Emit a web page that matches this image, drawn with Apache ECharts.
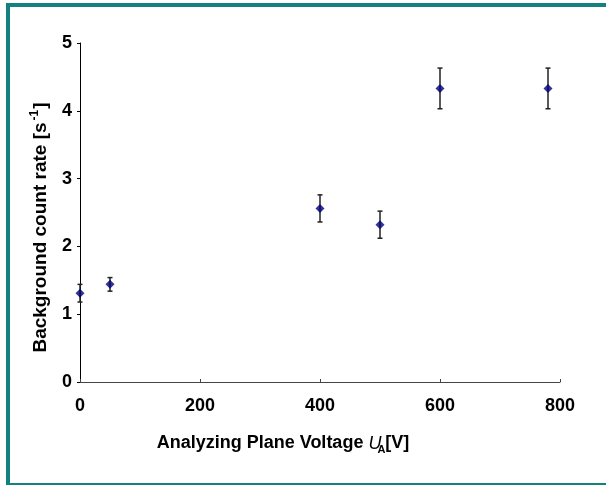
<!DOCTYPE html>
<html>
<head>
<meta charset="utf-8">
<script src="https://cdn.jsdelivr.net/npm/echarts@6/dist/echarts.min.js"></script>
<style>
  html, body { margin: 0; padding: 0; background: #fff; }
  #frame {
    position: absolute; left: 6px; top: 3px; width: 600px; height: 482px;
    box-sizing: border-box;
    border-top: 4px solid #13817f; border-left: 4px solid #13817f; border-bottom: 2px solid #13817f;
  }
  #chart { position: absolute; left: 0; top: 0; width: 606px; height: 486px; }
</style>
</head>
<body>
<div id="frame"></div>
<div id="chart"></div>
<script>
// analyzing plane voltage (V), background rate (1/s), error (1/s)
const voltage = [0, 50, 400, 500, 600, 780];
const rate = [1.31, 1.44, 2.56, 2.32, 4.33, 4.33];
const rateErr = [0.13, 0.1, 0.2, 0.2, 0.3, 0.3];

const xTicks = [0, 200, 400, 600, 800];
const yTicks = [0, 1, 2, 3, 4, 5];

const font = "'Liberation Sans', Arial, sans-serif";

const chart = echarts.init(document.getElementById("chart"));

const errData = voltage.map((v, i) => [v, rate[i] - rateErr[i], rate[i] + rateErr[i]]);
const pointData = voltage.map((v, i) => [v, rate[i]]);

chart.setOption({
  animation: false,
  textStyle: { fontFamily: font },
  grid: { left: 80, top: 43, right: 46, bottom: 104 },
  xAxis: {
    type: "value",
    min: xTicks[0],
    max: xTicks[xTicks.length - 1],
    interval: 200,
    splitLine: { show: false },
    axisLine: { lineStyle: { color: "#444", width: 1 } },
    axisTick: { inside: true, length: 3, lineStyle: { color: "#444" } },
    axisLabel: { color: "#000", fontSize: 18, fontWeight: "bold", margin: 15 },
    name: "{n|Analyzing Plane Voltage }{u|U}{s|A}{n|[V]}",
    nameLocation: "middle",
    nameGap: 50,
    nameTextStyle: {
      padding: [0, 74, 0, 0],
      rich: {
        n: { fontSize: 18, fontWeight: "bold", color: "#000", fontFamily: font },
        u: { fontSize: 18, fontStyle: "italic", color: "#000", fontFamily: font },
        s: { fontSize: 11, fontWeight: "bold", color: "#000", fontFamily: font, padding: [12, 0, 0, -4] },
      },
    },
  },
  yAxis: {
    type: "value",
    min: yTicks[0],
    max: yTicks[yTicks.length - 1],
    interval: 1,
    splitLine: { show: false },
    axisLine: { show: true, lineStyle: { color: "#000", width: 1 } },
    axisTick: { show: true, inside: false, length: 3, lineStyle: { color: "#000" } },
    axisLabel: { color: "#000", fontSize: 18, fontWeight: "bold", margin: 8 },
    name: "{n|Background count rate [s}{p|-1}{n|]}",
    nameLocation: "middle",
    nameGap: 27,
    nameTextStyle: {
      padding: [0, 30, 0, 0],
      rich: {
        n: { fontSize: 19, fontWeight: "bold", color: "#000", fontFamily: font },
        p: { fontSize: 12, fontWeight: "bold", color: "#000", fontFamily: font, padding: [0, 1, 12, 2] },
      },
    },
  },
  series: [
    {
      type: "custom",
      data: errData,
      renderItem: function (params, api) {
        const x = api.value(0);
        const lo = api.coord([x, api.value(1)]);
        const hi = api.coord([x, api.value(2)]);
        const cap = 2.5;
        const style = { stroke: "#222", lineWidth: 1.5 };
        return {
          type: "group",
          children: [
            { type: "line", shape: { x1: lo[0], y1: lo[1], x2: hi[0], y2: hi[1] }, style: style },
            { type: "line", shape: { x1: lo[0] - cap, y1: lo[1], x2: lo[0] + cap, y2: lo[1] }, style: style },
            { type: "line", shape: { x1: hi[0] - cap, y1: hi[1], x2: hi[0] + cap, y2: hi[1] }, style: style },
          ],
        };
      },
      z: 2,
    },
    {
      type: "scatter",
      data: pointData,
      symbol: "diamond",
      symbolSize: 9,
      itemStyle: { color: "#00007a" },
      z: 3,
    },
  ],
});
</script>
</body>
</html>
